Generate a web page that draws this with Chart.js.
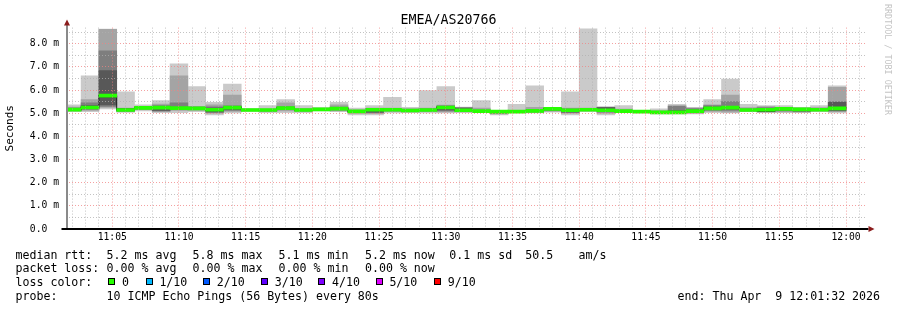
<!DOCTYPE html>
<html><head><meta charset="utf-8">
<script src="https://cdn.jsdelivr.net/npm/chart.js@4/dist/chart.umd.min.js"></script>
<style>
html,body{margin:0;padding:0;background:#fff;}
#wrap{position:relative;width:897px;height:310px;overflow:hidden;background:#fff;}
canvas{position:absolute;left:0;top:0;}
.t{position:absolute;font-family:"DejaVu Sans Mono",monospace;font-size:11.6px;color:#000;white-space:pre;line-height:14px;}
.box{position:absolute;width:7px;height:7px;box-sizing:border-box;border:1px solid #000;}
#title{position:absolute;left:0;top:11.5px;width:897px;text-align:center;font-family:"DejaVu Sans Mono",monospace;font-size:13.3px;line-height:16px;color:#000;white-space:pre;}
#wm{position:absolute;left:883px;top:4px;writing-mode:vertical-rl;font-family:"DejaVu Sans Mono",monospace;font-size:8.4px;line-height:10px;color:#c4c4c4;white-space:pre;}
</style></head>
<body><div id="wrap"><canvas id="c" width="897" height="310"></canvas>
<div id="title">EMEA/AS20766</div>
<div id="wm">RRDTOOL / TOBI OETIKER</div>
</div>
<script>
// ---- data ----
const slotLabels = ['11:02:00','11:03:20','11:04:40','11:06:00','11:07:20','11:08:40','11:10:00','11:11:20','11:12:40','11:14:00','11:15:20','11:16:40','11:18:00','11:19:20','11:20:40','11:22:00','11:23:20','11:24:40','11:26:00','11:27:20','11:28:40','11:30:00','11:31:20','11:32:40','11:34:00','11:35:20','11:36:40','11:38:00','11:39:20','11:40:40','11:42:00','11:43:20','11:44:40','11:46:00','11:47:20','11:48:40','11:50:00','11:51:20','11:52:40','11:54:00','11:55:20','11:56:40','11:58:00','11:59:20'];
const pingMin = [5.07,5.07,5.19,5.04,5.10,5.02,5.02,5.07,4.93,5.01, 5.08,5.02,5.02,5.02,5.10,5.07,4.93,4.93,5.01,5.04, 5.01,5.01,5.02,5.02,4.93,5.02,5.01,5.05,4.93,5.07, 4.93,5.02,5.04,4.97,4.97,4.97,5.02,5.01,5.07,5.02, 5.02,5.02,5.07,5.01];
const ping2 = [5.10,5.12,5.25,5.07,5.15,5.07,5.12,5.12,5.00,5.08, 5.10,5.07,5.10,5.08,5.12,5.10,5.00,5.00,5.08,5.05, 5.07,5.06,5.06,5.04,4.97,5.03,5.04,5.08,5.00,5.10, 5.00,5.04,5.05,4.99,4.99,5.00,5.08,5.05,5.09,5.05, 5.06,5.05,5.09,5.07];
const ping3 = [5.12,5.17,5.30,5.09,5.18,5.10,5.17,5.16,5.04,5.12, 5.11,5.10,5.15,5.10,5.14,5.13,5.03,5.01,5.10,5.07, 5.10,5.10,5.09,5.05,5.00,5.04,5.06,5.11,5.03,5.12, 5.05,5.05,5.06,5.00,5.00,5.02,5.12,5.12,5.10,5.07, 5.10,5.07,5.11,5.10];
const ping4 = [5.13,5.20,5.36,5.11,5.20,5.12,5.19,5.18,5.06,5.15, 5.12,5.12,5.18,5.12,5.15,5.15,5.05,5.05,5.12,5.09, 5.11,5.14,5.11,5.06,5.03,5.05,5.07,5.14,5.06,5.13, 5.10,5.06,5.06,5.01,5.01,5.04,5.15,5.18,5.11,5.07, 5.13,5.10,5.12,5.12];
const ping5 = [5.14,5.22,5.70,5.13,5.22,5.20,5.20,5.20,5.12,5.22, 5.13,5.13,5.20,5.13,5.16,5.19,5.07,5.13,5.14,5.11, 5.13,5.20,5.12,5.08,5.05,5.06,5.09,5.17,5.10,5.14, 5.12,5.08,5.07,5.03,5.03,5.07,5.18,5.22,5.13,5.08, 5.16,5.14,5.14,5.18];
const medianRtt = [5.16,5.25,5.76,5.14,5.23,5.24,5.22,5.21,5.15,5.24, 5.14,5.14,5.22,5.14,5.17,5.20,5.08,5.15,5.15,5.12, 5.14,5.25,5.13,5.09,5.07,5.07,5.10,5.19,5.13,5.15, 5.13,5.09,5.07,5.04,5.04,5.09,5.21,5.24,5.14,5.15, 5.19,5.17,5.15,5.21];
const ping6 = [5.17,5.28,5.82,5.16,5.24,5.27,5.24,5.23,5.18,5.26, 5.15,5.15,5.24,5.15,5.18,5.22,5.09,5.17,5.16,5.13, 5.15,5.28,5.15,5.10,5.08,5.08,5.11,5.20,5.15,5.16, 5.15,5.10,5.08,5.05,5.06,5.11,5.24,5.26,5.15,5.19, 5.20,5.19,5.16,5.24];
const ping7 = [5.19,5.33,6.84,5.20,5.25,5.30,5.26,5.25,5.22,5.30, 5.16,5.16,5.26,5.16,5.19,5.24,5.10,5.19,5.17,5.14, 5.17,5.30,5.20,5.12,5.09,5.09,5.13,5.21,5.17,5.17, 5.25,5.11,5.09,5.06,5.12,5.15,5.27,5.30,5.17,5.20, 5.21,5.20,5.18,5.47];
const ping8 = [5.22,5.45,7.70,5.21,5.27,5.33,5.45,5.27,5.28,5.32, 5.17,5.17,5.29,5.18,5.20,5.27,5.12,5.20,5.19,5.16, 5.19,5.32,5.24,5.14,5.10,5.10,5.16,5.22,5.19,5.19, 5.26,5.13,5.10,5.08,5.30,5.20,5.33,5.50,5.19,5.24, 5.22,5.21,5.20,5.50];
const ping9 = [5.27,5.59,8.63,5.22,5.30,5.40,6.62,5.30,5.36,5.79, 5.18,5.19,5.45,5.20,5.22,5.36,5.15,5.22,5.22,5.20, 5.22,5.35,5.26,5.22,5.11,5.12,5.26,5.24,5.22,5.22, 5.27,5.18,5.11,5.12,5.33,5.22,5.36,5.79,5.24,5.29, 5.24,5.23,5.24,6.12];
const pingMax = [5.36,6.62,8.64,5.93,5.36,5.55,7.13,6.15,5.47,6.26, 5.20,5.33,5.59,5.33,5.25,5.47,5.22,5.33,5.69,5.26, 5.98,6.15,5.27,5.55,5.12,5.39,6.19,5.26,5.93,8.65, 5.28,5.33,5.12,5.19,5.39,5.26,5.59,6.48,5.39,5.33, 5.33,5.26,5.33,6.19];
const xTickLabels = ['11:05','11:10','11:15','11:20','11:25','11:30','11:35','11:40','11:45','11:50','11:55','12:00'];
const yTickLabels = ['0.0','1.0 m','2.0 m','3.0 m','4.0 m','5.0 m','6.0 m','7.0 m','8.0 m'];
const rangeStart = '11:01:32', rangeEnd = '12:01:32';
const yMaxMs = 8.7;

// ---- legend text ----
const legendRows = [
  {y:247.5, items:[[15.5,'median rtt:'],[106.6,'5.2 ms avg'],[192.6,'5.8 ms max'],[278.6,'5.1 ms min'],[365,'5.2 ms now'],[449.3,'0.1 ms sd'],[525.3,'50.5'],[578.6,'am/s']]},
  {y:261, items:[[15.5,'packet loss:'],[106.6,'0.00 % avg'],[192.6,'0.00 % max'],[278.6,'0.00 % min'],[365,'0.00 % now']]},
  {y:275, items:[[15.5,'loss color:']]},
  {y:289, items:[[15.5,'probe:'],[106.6,'10 ICMP Echo Pings (56 Bytes) every 80s'],[677.6,'end: Thu Apr  9 12:01:32 2026']]}
];
const lossLabels = ['0','1/10','2/10','3/10','4/10','5/10','9/10'];
const lossColors = ['#26ff00','#00b8ff','#0059ff','#5e00ff','#7e00ff','#dd00ff','#ff0000'];
const lossBoxX = [108.3,145.7,203,261,318.3,375.7,434];

const wrap = document.getElementById('wrap');
legendRows.forEach(r => r.items.forEach(([x,t]) => {
  const d = document.createElement('div'); d.className='t'; d.style.left=x+'px'; d.style.top=r.y+'px'; d.textContent=t; wrap.appendChild(d);
}));
lossLabels.forEach((l,i) => {
  const b = document.createElement('div'); b.className='box'; b.style.left=lossBoxX[i]+'px'; b.style.top='278.3px'; b.style.background=lossColors[i]; wrap.appendChild(b);
  const d = document.createElement('div'); d.className='t'; d.style.left=(lossBoxX[i]+13.7)+'px'; d.style.top='275px'; d.textContent=l; wrap.appendChild(d);
});

// ---- chart ----
const toMin = s => { const [h,m,sec] = s.split(':').map(Number); return (h-11)*60 + m + (sec||0)/60; };
const xs = slotLabels.map(toMin);
const band = (lo, hi) => xs.map((x,i) => ({x, y:[lo[i], hi[i]]}));
const medHalf = 0.065;
const greyLevels = ['#cacaca','#a4a4a4','#7e7e7e','#585858','#323232'];
const bandPairs = [[pingMin,pingMax],[ping2,ping9],[ping3,ping8],[ping4,ping7],[ping5,ping6]];
const datasets = bandPairs.map((p,k) => ({
  type:'bar', data: band(p[0],p[1]), backgroundColor: greyLevels[k], borderWidth:0,
  grouped:false, barPercentage:1, categoryPercentage:1, order: 10-k
}));
datasets.push({type:'line', data: xs.map((x,i)=>({x, y:medianRtt[i]})), stepped:'middle', borderColor:'#202020', borderWidth:1, pointRadius:0, fill:false, order:3});
datasets.push({type:'bar', data: xs.map((x,i)=>({x, y:[medianRtt[i]-medHalf, medianRtt[i]+medHalf]})), backgroundColor: lossColors[0], borderWidth:0, grouped:false, barPercentage:1, categoryPercentage:1, order:2});

const xMin = toMin(rangeStart), xMax = toMin(rangeEnd);
const minuteTicks = []; for (let v = Math.ceil(xMin); v <= xMax; v++) minuteTicks.push(v);
const halfTicks = []; for (let v = 0; v <= yMaxMs; v += 0.5) halfTicks.push(v);
const MAJOR = 'rgba(240,130,130,0.75)', MINOR = 'rgba(175,175,175,0.75)';
const tickFont = {family:'DejaVu Sans Mono', size:9.7};

const decor = {
  id:'decor',
  afterDraw(chart){
    const {ctx, chartArea:a} = chart;
    ctx.save();
    ctx.lineCap='butt';
    ctx.strokeStyle='#8a8a8a'; ctx.lineWidth=2;
    ctx.beginPath(); ctx.moveTo(a.left+1, a.bottom); ctx.lineTo(a.left+1, a.top-3); ctx.stroke();
    ctx.strokeStyle='#000'; ctx.lineWidth=2;
    ctx.beginPath(); ctx.moveTo(a.left-4.5, a.bottom); ctx.lineTo(a.right+2, a.bottom); ctx.stroke();
    ctx.fillStyle='#8b1c1c';
    ctx.beginPath(); ctx.moveTo(a.left+1, a.top-8); ctx.lineTo(a.left-2, a.top-2); ctx.lineTo(a.left+4, a.top-2); ctx.closePath(); ctx.fill();
    ctx.beginPath(); ctx.moveTo(a.right+8, a.bottom); ctx.lineTo(a.right+2, a.bottom-3); ctx.lineTo(a.right+2, a.bottom+3); ctx.closePath(); ctx.fill();
    ctx.restore();
  }
};

const chart = new Chart(document.getElementById('c'), {
  type:'bar',
  data:{datasets},
  options:{
    responsive:false, animation:false, devicePixelRatio:1,
    layout:{padding:{left:0, right:30.5, top:27.6, bottom:0}},
    plugins:{legend:{display:false}, tooltip:{enabled:false}, title:{display:false}},
    scales:{
      x:{type:'linear', min:xMin, max:xMax, offset:false,
        afterBuildTicks: s => { s.ticks = minuteTicks.map(v=>({value:v})); },
        afterFit: s => { s.height = 81; },
        grid:{offset:false, drawTicks:false, z:1, lineWidth:1, color: c => (c.tick && c.tick.value % 5 === 0) ? MAJOR : MINOR},
        border:{display:false, dash:[1,2]},
        ticks:{autoSkip:false, maxRotation:0, minRotation:0, padding:3, color:'#000', font:tickFont,
          callback: v => (v % 5 === 0) ? (xTickLabels[v/5 - 1] || '') : ''}
      },
      y:{min:0, max:yMaxMs,
        afterBuildTicks: s => { s.ticks = halfTicks.map(v=>({value:v})); },
        afterFit: s => { s.width = 66; },
        grid:{drawTicks:false, z:1, lineWidth:1, color: c => (c.tick && Number.isInteger(c.tick.value)) ? MAJOR : MINOR},
        border:{display:false, dash:[1,2]},
        title:{display:true, text:'Seconds', color:'#000', font:{family:'DejaVu Sans Mono', size:11}, padding:{top:4, bottom:0}},
        ticks:{padding:7, color:'#000', font:tickFont, autoSkip:false,
          callback: v => Number.isInteger(v) ? (yTickLabels[v] || '').padEnd(5, ' ') : ''}
      }
    }
  },
  plugins:[decor]
});
// bars span the full 80 s sampling step on the time scale
const sx = chart.scales.x;
const stepPx = sx.getPixelForValue(xs[1]) - sx.getPixelForValue(xs[0]);
chart.data.datasets.forEach(d => { if (d.type === 'bar') d.barThickness = stepPx; });
chart.update('none');
</script>
</body></html>
